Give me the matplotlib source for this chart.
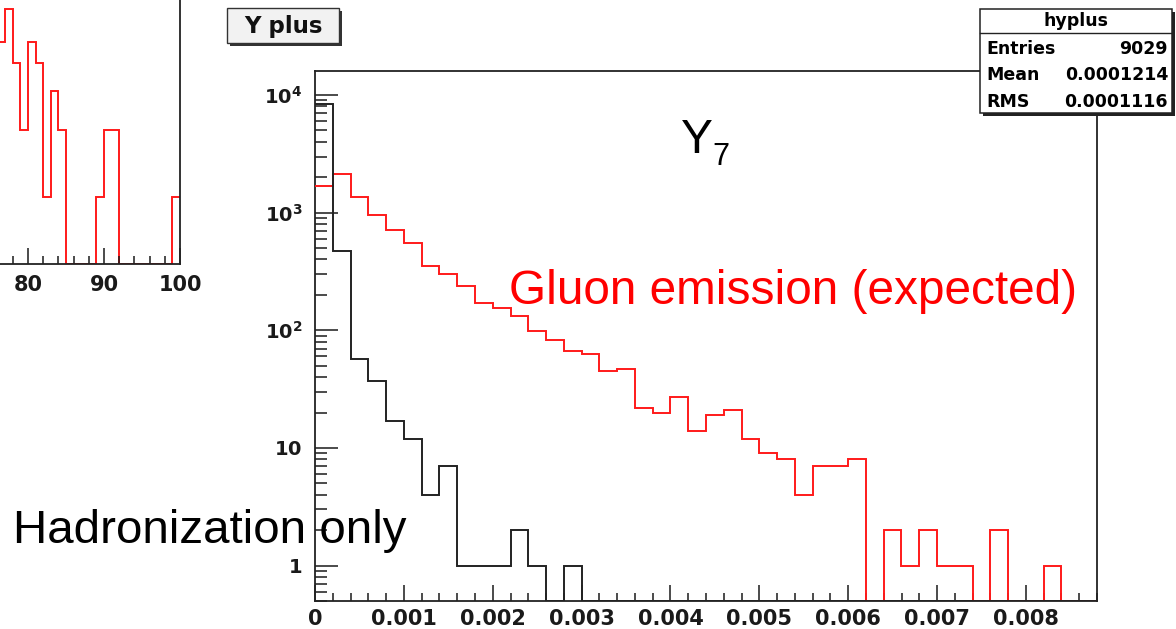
import numpy as np
import matplotlib
matplotlib.use("Agg")
import matplotlib.pyplot as plt
from matplotlib.patches import Rectangle
from matplotlib.ticker import (FixedLocator, MultipleLocator, LogLocator,
                               NullFormatter, FuncFormatter, NullLocator)

W, H = 1176, 629

# main histogram "Y plus": bins of width 0.0002 starting at 0
bin_width = 0.0002
x_max = 0.0088
hadron_only = [8420, 470, 57, 37, 17, 12, 4, 7, 1, 1, 1, 2, 1, 0, 1,
               0, 0, 0, 0, 0, 0, 0, 0, 0, 0, 0, 0, 0, 0, 0,
               0, 0, 0, 0, 0, 0, 0, 0, 0, 0, 0, 0, 0, 0]
gluon = [1680, 2140, 1365, 947, 719, 547, 351, 302, 236, 170, 155, 133,
         99, 82, 67, 63, 45, 47, 22, 20, 27, 14, 19, 21, 12, 9, 8, 4,
         7, 7, 8, 0, 2, 1, 2, 1, 1, 0, 2, 0, 0, 1, 0, 0]
y_ticks = [1, 10, 100, 1000, 10000]
y_tick_labels = [r'$\mathbf{1}$', r'$\mathbf{10}$', r'$\mathbf{10^{2}}$',
                 r'$\mathbf{10^{3}}$', r'$\mathbf{10^{4}}$']

# partly visible panel on the left (bins of width 1)
left_first_bin = 76
left_counts = [5, 7, 4, 2, 5, 4, 1, 3, 2, 0, 0, 0, 0, 1, 2, 2,
               0, 0, 0, 0, 0, 0, 0, 1]
left_labels = [80, 90, 100]

stats_title = "hyplus"
stats_rows = [("Entries", "9029"), ("Mean", "0.0001214"), ("RMS", "0.0001116")]

y_lo, y_hi = 0.5, 16000


def fx(px):
    return px / W


def fy(py):
    return 1 - py / H


plt.rcParams['mathtext.fontset'] = 'dejavusans'
fig = plt.figure(figsize=(W / 100, H / 100), dpi=100)

# ---- main panel
ax = fig.add_axes([fx(315), fy(601), fx(1097) - fx(315), fy(71) - fy(601)])
edges = np.arange(len(gluon) + 1) * bin_width
g = np.array(gluon, dtype=float)
h = np.array(hadron_only, dtype=float)
# empty bins are drawn on the axis floor, as ROOT does
ax.stairs(np.where(g > 0, g, y_lo), edges, color='#ff1a1a', lw=1.4, baseline=None, zorder=3)
ax.stairs(np.where(h > 0, h, y_lo), edges, color='#222222', lw=1.4, baseline=None, zorder=4)

ax.set_yscale('log')
ax.set_xlim(0, x_max)
ax.set_ylim(y_lo, y_hi)

ax.xaxis.set_major_locator(MultipleLocator(0.001))
ax.xaxis.set_minor_locator(MultipleLocator(0.0002))
ax.xaxis.set_major_formatter(FuncFormatter(lambda v, _: '0' if abs(v) < 1e-12 else f'{v:.3f}'))
ax.yaxis.set_major_locator(FixedLocator(y_ticks))
ax.set_yticklabels(y_tick_labels)
ax.yaxis.set_minor_locator(LogLocator(base=10, subs=np.arange(2, 10), numticks=20))
ax.yaxis.set_minor_formatter(NullFormatter())

ax.tick_params(axis='x', which='major', direction='in', length=11.5, width=1.1, pad=6,
               labelsize=15)
ax.tick_params(axis='x', which='minor', direction='in', length=5.8, width=1.1)
ax.tick_params(axis='y', which='major', direction='in', length=16.5, width=1.1, pad=9,
               labelsize=14)
ax.tick_params(axis='y', which='minor', direction='in', length=8.6, width=1.1)
ax.tick_params(which='both', top=False, right=False, colors='#1a1a1a')
for lab in ax.get_xticklabels():
    lab.set_fontweight('bold')
for sp in ax.spines.values():
    sp.set_linewidth(1.3)
    sp.set_color('#222222')

# ---- left panel (mostly outside the picture)
ax2 = fig.add_axes([fx(180 - 40 * 7.6), fy(264), fx(40 * 7.6), 511 / H])
ledges = left_first_bin + np.arange(len(left_counts) + 1)
lc = np.array(left_counts, dtype=float)
ax2.stairs(np.where(lc > 0, lc, 0.5), ledges, color='#ff1a1a', lw=1.4, baseline=None)
ax2.set_yscale('log')
ax2.set_xlim(60, 100)
ax2.set_ylim(0.5, 100)
ax2.xaxis.set_major_locator(FixedLocator(left_labels))
ax2.xaxis.set_minor_locator(MultipleLocator(2))
ax2.yaxis.set_major_locator(NullLocator())
ax2.yaxis.set_minor_locator(NullLocator())
ax2.tick_params(axis='x', which='major', direction='in', length=11.5, width=1.1, pad=8,
                labelsize=15, colors='#1a1a1a')
ax2.tick_params(axis='x', which='minor', direction='in', length=5.8, width=1.1,
                colors='#1a1a1a')
for lab in ax2.get_xticklabels():
    lab.set_fontweight('bold')
for sp in ax2.spines.values():
    sp.set_linewidth(1.3)
    sp.set_color('#222222')

# ---- title button "Y plus"
fig.add_artist(Rectangle((fx(230), fy(46)), fx(112), fy(11) - fy(46),
                         facecolor='#333333', edgecolor='none', zorder=5))
fig.add_artist(Rectangle((fx(227), fy(43)), fx(112), fy(8) - fy(43),
                         facecolor='#f2f2f2', edgecolor='#333333', lw=1.0, zorder=6))
fig.text(fx(283), fy(26), "Y plus", fontsize=16.5, fontweight='bold',
         ha='center', va='center', color='#111111', zorder=7)

# ---- stats box
fig.add_artist(Rectangle((fx(983), fy(116)), fx(192), fy(12) - fy(116),
                         facecolor='#222222', edgecolor='none', zorder=5))
fig.add_artist(Rectangle((fx(980), fy(113)), fx(192), fy(9) - fy(113),
                         facecolor='white', edgecolor='#222222', lw=1.1, zorder=6))
fig.add_artist(plt.Line2D([fx(980), fx(1172)], [fy(33), fy(33)], color='#222222',
                          lw=1.0, zorder=7))
fig.text(fx(1076), fy(21), stats_title, fontsize=12.5, fontweight='bold',
         ha='center', va='center', zorder=8)
for i, (name, val) in enumerate(stats_rows):
    yy = fy(49 + i * 26.5)
    fig.text(fx(986), yy, name, fontsize=12.5, fontweight='bold', ha='left', va='center', zorder=8)
    fig.text(fx(1168), yy, val, fontsize=12.5, fontweight='bold', ha='right', va='center', zorder=8)

# ---- annotations
fig.text(fx(681), fy(153), "Y", fontsize=34.5, family='Liberation Sans',
         ha='left', va='baseline', zorder=8)
fig.text(fx(712), fy(165), "7", fontsize=22, family='Liberation Sans',
         ha='left', va='baseline', zorder=8)
fig.text(fx(509), fy(304), "Gluon emission (expected)", fontsize=34.4, color='red',
         family='Liberation Sans', ha='left', va='baseline', zorder=8)
fig.text(fx(13), fy(543), "Hadronization only", fontsize=34.2, color='black',
         family='Liberation Sans', ha='left', va='baseline', zorder=8)

fig.savefig("out.png", dpi=100)
